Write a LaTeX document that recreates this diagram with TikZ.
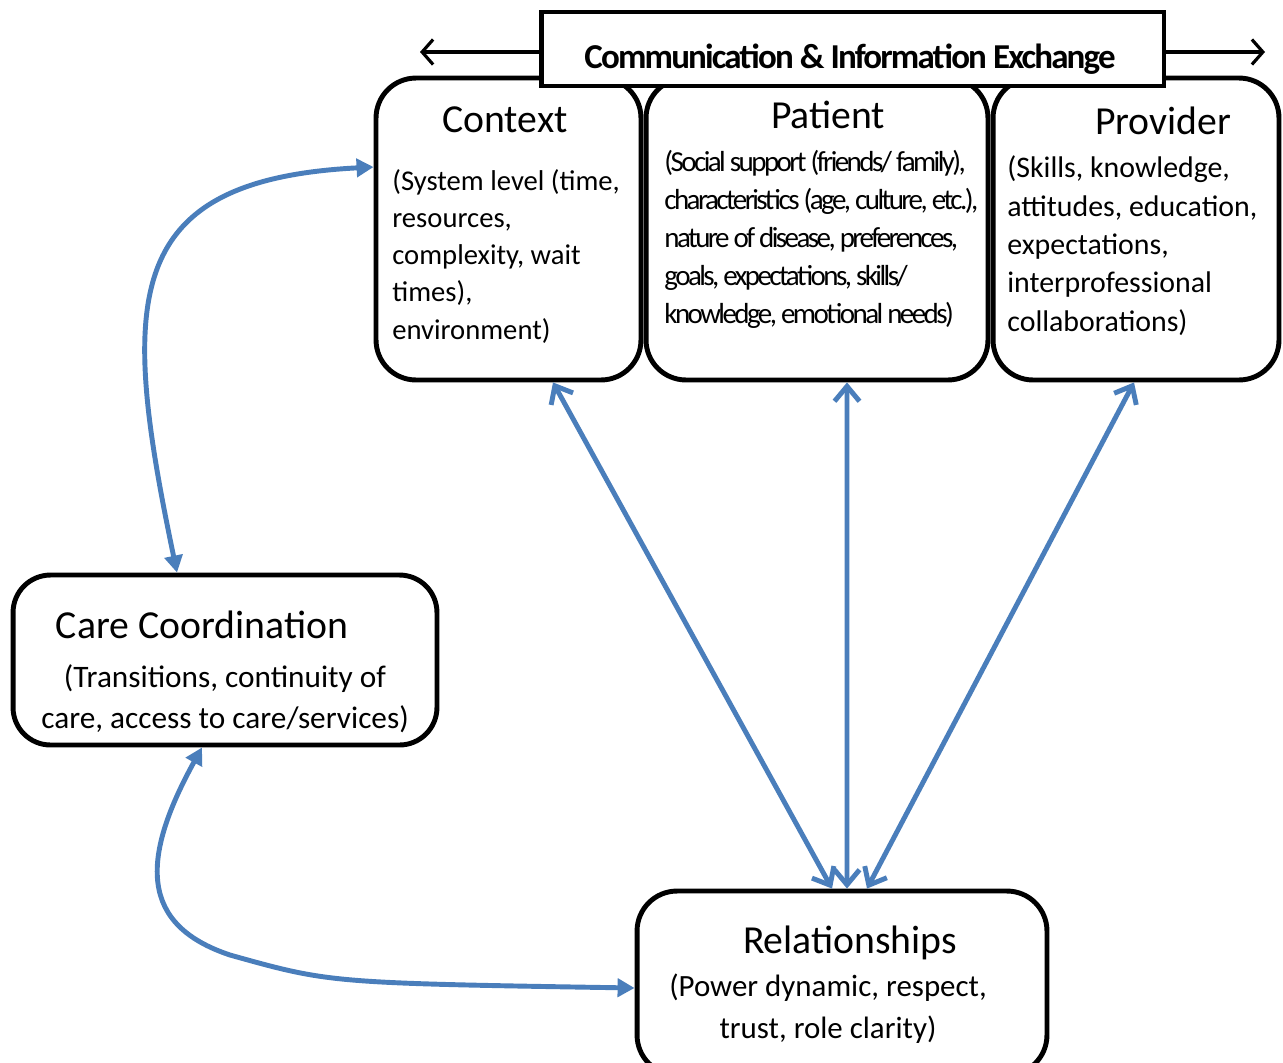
\documentclass[tikz,border=0pt]{standalone}
\usepackage{fontspec}
\setmainfont{Carlito}
\usepackage{tikz}
\usetikzlibrary{arrows.meta, positioning}
\definecolor{linkblue}{RGB}{74,126,187}
\tikzset{
  box/.style={draw=black, line width=2.8pt, rounded corners=0.8cm, fill=white, inner sep=0pt},
  title/.style={anchor=base, inner sep=0pt, font=\fontsize{22.6}{27}\selectfont},
  body/.style={inner sep=0pt, anchor=base west, align=left}
}
\tikzstyle{link} = [linkblue, line width=2.8pt, {Straight Barb[length=0.3cm,width=0.5cm]}-{Straight Barb[length=0.3cm,width=0.5cm]}]
\tikzstyle{curvelink} = [linkblue, line width=2.8pt, {Triangle[length=0.34cm,width=0.36cm]}-{Triangle[length=0.34cm,width=0.36cm]}]
\tikzstyle{hdrarrow} = [black, line width=1.8pt, -{Straight Barb[length=0.22cm,width=0.5cm]}]

\begin{document}
\begin{tikzpicture}[x=0.02cm, y=-0.02cm]
    \useasboundingbox (0,0) rectangle (1283,1062);
    \clip (0,0) rectangle (1283,1062);
    \node [box, minimum width=5.3cm, minimum height=6.04cm] (ctx) at (508.5,229) {};
    \node [box, minimum width=6.84cm, minimum height=6.04cm] (pat) at (817,229) {};
    \node [box, minimum width=5.72cm, minimum height=6.04cm] (prov) at (1136,229) {};
    \node [draw=black, line width=2.8pt, fill=white, minimum width=12.46cm, minimum height=1.48cm] (hdr) at (852.5,49) {};
    \node [box, rounded corners=0.75cm, minimum width=8.48cm, minimum height=3.4cm] (care) at (225,660) {};
    \node [box, minimum width=8.2cm, minimum height=3.68cm] (rel) at (842,983) {};

    \node [anchor=base, inner sep=0pt, font=\bfseries\fontsize{19.9}{24}\selectfont\addfontfeature{LetterSpace=-5.3}] (hdrtext) at (850,68) {Communication \& Information Exchange};
    \coordinate (hl) at (420,52);
    \coordinate (hr) at (1265,52);
    \draw [hdrarrow] (hdr.west |- hl) -- (hl);
    \draw [hdrarrow] (hdr.east |- hr) -- (hr);

    \node [title] (ctxtitle) at (505,132) {Context};
    \node [title] (pattitle) at (828,128) {Patient};
    \node [title] (provtitle) at (1163,134) {Provider};
    \node [title] (caretitle) at (202,638) {Care Coordination};
    \node [title] (reltitle) at (850,953) {Relationships};

    \node [body, font=\fontsize{16.3}{21.2}\selectfont] (ctxtext) at (392,339) {(System level (time,\\resources,\\complexity, wait\\times),\\environment)};
    \node [body, font=\fontsize{16.5}{21.6}\selectfont\addfontfeature{LetterSpace=-8.8}] (pattext) at (664,323) {(Social support (friends/ family),\\characteristics (age, culture, etc.),\\nature of disease, preferences,\\goals, expectations, skills/\\knowledge, emotional needs)};
    \node [body, font=\fontsize{17}{21.8}\selectfont] (provtext) at (1007,331) {(Skills, knowledge,\\attitudes, education,\\expectations,\\interprofessional\\collaborations)};
    \node [anchor=base, inner sep=0pt, align=center, font=\fontsize{17.8}{22.8}\selectfont] (caretext) at (225,728) {(Transitions, continuity of\\care, access to care/services)};
    \node [anchor=base, inner sep=0pt, align=center, font=\fontsize{17.6}{23.9}\selectfont] (reltext) at (828,1038) {(Power dynamic, respect,\\trust, role clarity)};

    \draw [link] ([xshift=0.89cm]ctx.south) -- ([xshift=-0.2cm]rel.north);
    \draw [link] ([xshift=0.6cm]pat.south) -- ([xshift=0.1cm]rel.north);
    \draw [link] ([xshift=-0.04cm]prov.south) -- ([xshift=0.5cm]rel.north);
    \draw [curvelink] ([xshift=-0.96cm]care.north) .. controls (120,300) and (120,180) .. ([yshift=1.24cm]ctx.west);
    \draw [curvelink] ([xshift=-0.46cm]care.south) .. controls (140,860) and (140,925) .. (230,955) .. controls (330,983) .. ([yshift=-0.1cm]rel.west);
\end{tikzpicture}
\end{document}
